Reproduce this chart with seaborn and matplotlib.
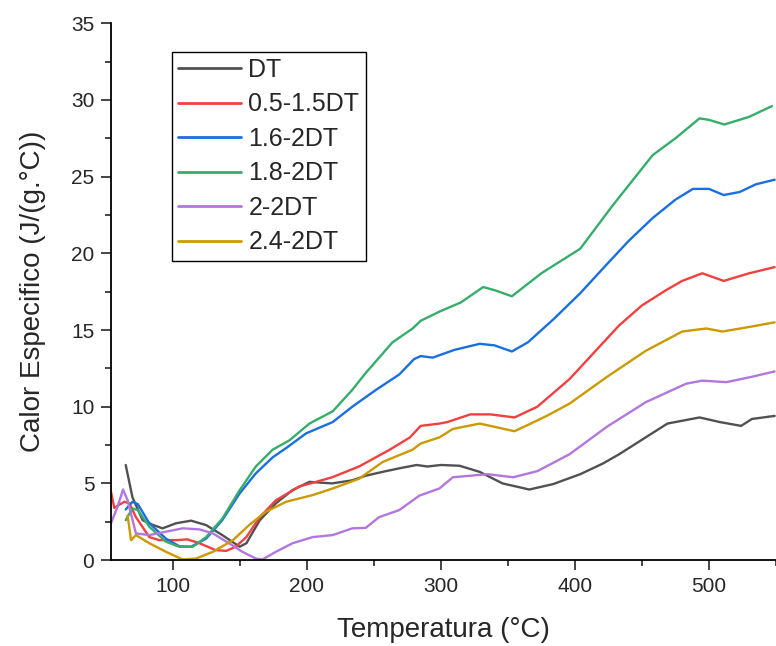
import pandas as pd
import matplotlib
matplotlib.use("Agg")
import matplotlib.pyplot as plt
from matplotlib.ticker import MultipleLocator
import seaborn as sns

# Series labels and colours (Origin default palette)
labels = ["DT", "0.5-1.5DT", "1.6-2DT", "1.8-2DT", "2-2DT", "2.4-2DT"]
colors = ["#515151", "#F14040", "#1A6FDF", "#37AD6B", "#B177DE", "#CC9900"]

# Temperature (C) and specific heat J/(g.C)
t_dt = [65, 70, 77.6, 85, 92.5, 102.5, 113.7, 125, 137, 150, 155, 165, 177, 189.5, 202, 219, 234, 244,
        257, 270, 282, 290, 300, 314, 329, 346, 366, 384, 404, 421, 433, 451, 469, 493, 508, 524, 532, 549]
cp_dt = [6.2, 4.1, 2.6, 2.3, 2.07, 2.4, 2.57, 2.28, 1.63, 0.87, 1.1, 2.6, 3.7, 4.57, 5.1, 5.0, 5.2, 5.5,
         5.76, 6.0, 6.2, 6.1, 6.2, 6.15, 5.75, 5.0, 4.6, 4.96, 5.6, 6.3, 6.9, 7.9, 8.9, 9.3, 9.0, 8.75, 9.2, 9.4]

t_05 = [54, 56.5, 60, 64, 67.7, 72.6, 82.6, 90, 102.5, 111, 120, 132, 140, 147, 155, 165, 177, 194.5, 207,
        219, 239, 262, 277, 285, 299, 305, 322, 337, 355, 372, 396, 433, 450, 468, 480, 495, 511, 530, 549]
cp_05 = [4.46, 3.4, 3.6, 3.8, 3.7, 2.8, 1.5, 1.3, 1.3, 1.35, 1.1, 0.65, 0.6, 0.87, 1.5, 2.8, 3.9, 4.8, 5.1,
         5.4, 6.1, 7.2, 8.0, 8.75, 8.9, 9.0, 9.5, 9.5, 9.3, 10.0, 11.8, 15.3, 16.6, 17.6, 18.2, 18.7, 18.2, 18.7, 19.1]

t_16 = [65, 70, 74, 82.6, 95, 105, 113.7, 125, 137, 150, 162, 174.6, 184.6, 199.5, 219.4, 234, 251.7, 269,
        280, 285, 294, 310, 329, 340, 353, 365, 384, 404, 424, 440, 458, 475, 488, 500, 511, 523, 535, 549]
cp_16 = [3.3, 3.8, 3.65, 2.4, 1.4, 0.9, 0.87, 1.4, 2.6, 4.35, 5.65, 6.7, 7.3, 8.26, 9.0, 10.0, 11.1, 12.1,
         13.1, 13.3, 13.2, 13.7, 14.1, 14.0, 13.6, 14.2, 15.7, 17.4, 19.3, 20.8, 22.3, 23.5, 24.2, 24.2, 23.8, 24.0, 24.5, 24.8]

t_18 = [65, 70, 74, 82.6, 95, 105, 115, 125, 137, 150, 162, 174.6, 187, 202, 219.4, 234, 244, 264, 279,
        285, 299, 315, 331.6, 340, 353, 375, 404, 428, 458, 475, 493, 500, 511.5, 530, 547]
cp_18 = [2.6, 3.37, 3.26, 2.17, 1.2, 0.87, 0.87, 1.5, 2.7, 4.56, 6.1, 7.2, 7.8, 8.9, 9.7, 11.1, 12.2, 14.2, 15.1,
         15.6, 16.2, 16.8, 17.8, 17.6, 17.2, 18.7, 20.3, 23.1, 26.4, 27.5, 28.8, 28.7, 28.4, 28.9, 29.6]

t_2 = [54, 59, 63, 66.4, 72.6, 82.6, 95, 107.5, 120, 130, 142, 152, 162, 167, 177, 189.5, 204.5, 219.4,
       234, 244, 254, 269, 284, 299, 309, 335, 354, 372, 396, 424, 453, 483, 495, 513, 532, 549]
cp_2 = [2.4, 3.5, 4.6, 3.9, 1.74, 1.63, 1.85, 2.07, 2.0, 1.74, 1.1, 0.54, 0.1, 0.04, 0.54, 1.1, 1.5, 1.63,
        2.07, 2.1, 2.8, 3.26, 4.2, 4.67, 5.4, 5.6, 5.4, 5.8, 6.9, 8.7, 10.3, 11.5, 11.7, 11.6, 11.95, 12.3]

t_24 = [66.4, 69, 72.6, 82.6, 95, 107.5, 117.4, 130, 145, 157, 169.6, 184.6, 204.5, 219.4, 239, 256.7,
        279, 285, 299, 309, 329, 355, 379, 396, 424, 453, 480, 498, 510, 530, 549]
cp_24 = [2.9, 1.3, 1.63, 1.1, 0.54, 0.04, 0.1, 0.54, 1.3, 2.28, 3.15, 3.8, 4.24, 4.67, 5.3, 6.4,
         7.2, 7.6, 8.0, 8.55, 8.9, 8.4, 9.4, 10.2, 11.95, 13.65, 14.9, 15.1, 14.9, 15.2, 15.5]

temps = [t_dt, t_05, t_16, t_18, t_2, t_24]
cps = [cp_dt, cp_05, cp_16, cp_18, cp_2, cp_24]

frames = []
for lab, t, c in zip(labels, temps, cps):
    frames.append(pd.DataFrame({"T": t, "Cp": c, "Muestra": lab}))
df = pd.concat(frames, ignore_index=True)

sns.set_style("ticks")
plt.rcParams["font.family"] = ["Liberation Sans", "DejaVu Sans"]

fig = plt.figure(figsize=(7.76, 6.46), dpi=100)
ax = fig.add_axes([0.143, 0.133, 0.857, 0.831])

sns.lineplot(data=df, x="T", y="Cp", hue="Muestra", hue_order=labels,
             palette=dict(zip(labels, colors)), sort=False, estimator=None,
             linewidth=1.7, ax=ax)

ax.set_xlim(54, 550)
ax.set_ylim(0, 35)
ax.xaxis.set_major_locator(MultipleLocator(100))
ax.xaxis.set_minor_locator(MultipleLocator(50))
ax.yaxis.set_major_locator(MultipleLocator(5))
ax.yaxis.set_minor_locator(MultipleLocator(2.5))
ax.tick_params(which="major", length=7, width=1.2, labelsize=15, direction="out", pad=5)
ax.tick_params(which="minor", length=4, width=1.2, direction="out")
for s in ["left", "bottom"]:
    ax.spines[s].set_linewidth(1.3)
    ax.spines[s].set_color("black")
sns.despine(ax=ax)

ax.set_xlabel("Temperatura (°C)", fontsize=20, labelpad=15)
ax.set_ylabel("Calor Especifico (J/(g.°C))", fontsize=20, labelpad=18)

leg = ax.legend(loc="upper left", bbox_to_anchor=(0.092, 0.947), borderaxespad=0,
                fontsize=18, handlelength=2.5, labelspacing=0.42, fancybox=False,
                framealpha=1, edgecolor="black", handletextpad=0.3, borderpad=0.25)
leg.get_frame().set_linewidth(1.0)
for line in leg.get_lines():
    line.set_linewidth(2)

fig.savefig("out.png", dpi=100)
